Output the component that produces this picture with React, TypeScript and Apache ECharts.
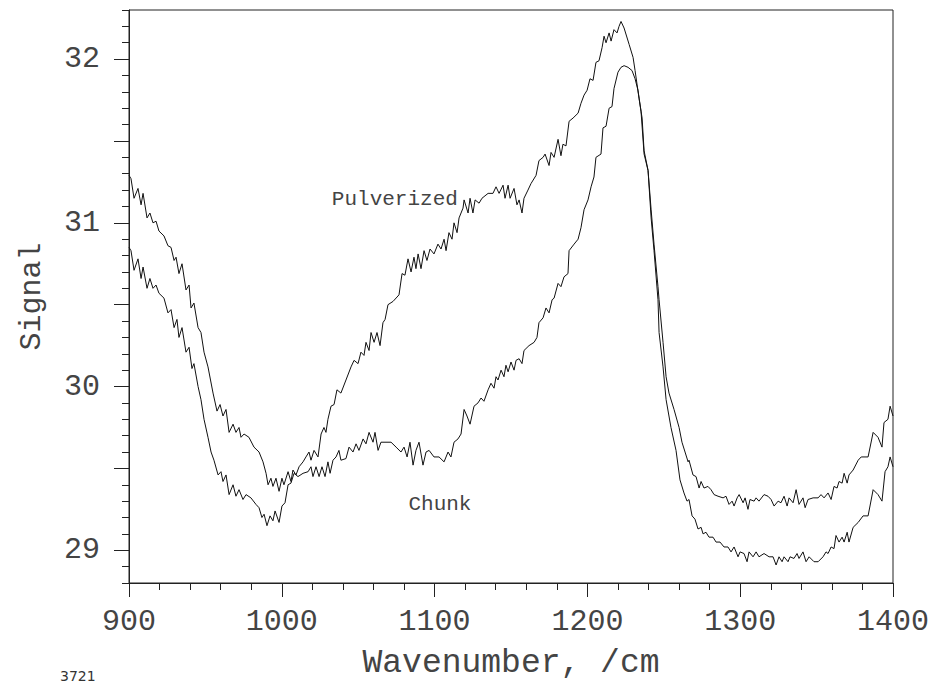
import React, { useEffect, useRef } from "react";
import * as echarts from "echarts";

// Wavenumber (cm^-1), signal pairs
const pulverized: [number, number][] = [
  [900, 31.29], [901.3, 31.27], [903.3, 31.15], [905.9, 31.21], [907.9, 31.11], [909.2, 31.18],
  [911.8, 31.03], [913.7, 31.06], [915.7, 31.0], [917.7, 31.01], [919.6, 30.95], [922.9, 30.92],
  [925.5, 30.86], [927.5, 30.85], [929.5, 30.77], [930.8, 30.79], [932.7, 30.69], [934.7, 30.75],
  [937.3, 30.59], [939.3, 30.62], [940.6, 30.48], [942.5, 30.51], [945.2, 30.36], [947.1, 30.33],
  [949.1, 30.21], [951.7, 30.12], [955.0, 29.96], [957.6, 29.85], [959.6, 29.89], [961.5, 29.82],
  [963.5, 29.86], [965.5, 29.72], [968.1, 29.77], [970.0, 29.72], [972.0, 29.75], [973.3, 29.69],
  [975.3, 29.71], [978.5, 29.69], [981.8, 29.63], [985.1, 29.6], [987.7, 29.54], [989.7, 29.47],
  [991.0, 29.4], [992.9, 29.44], [994.2, 29.39], [996.2, 29.44], [998.2, 29.36], [1000.1, 29.44],
  [1001.4, 29.4], [1004.1, 29.48], [1006.0, 29.42], [1007.3, 29.49], [1009.3, 29.46], [1011.3, 29.51],
  [1013.9, 29.54], [1015.8, 29.57], [1017.8, 29.6], [1019.1, 29.55], [1021.1, 29.61], [1023.7, 29.57],
  [1025.7, 29.71], [1027.6, 29.75], [1028.9, 29.72], [1030.2, 29.8], [1032.2, 29.88], [1034.2, 29.89],
  [1036.1, 29.98], [1038.7, 29.96], [1042.0, 30.04], [1045.3, 30.12], [1047.3, 30.16], [1049.9, 30.14],
  [1051.8, 30.21], [1053.8, 30.19], [1055.1, 30.27], [1057.1, 30.22], [1058.4, 30.33], [1060.4, 30.27],
  [1062.3, 30.33], [1064.3, 30.25], [1066.2, 30.39], [1067.6, 30.41], [1069.5, 30.5], [1072.8, 30.52],
  [1076.7, 30.56], [1078.7, 30.69], [1080.6, 30.68], [1082.6, 30.78], [1084.6, 30.7], [1086.5, 30.79],
  [1087.8, 30.72], [1089.2, 30.81], [1091.1, 30.72], [1093.1, 30.83], [1095.0, 30.77], [1097.0, 30.84],
  [1099.6, 30.81], [1102.2, 30.87], [1104.2, 30.84], [1106.2, 30.9], [1107.5, 30.83], [1109.4, 30.94],
  [1111.4, 30.9], [1112.7, 31.0], [1114.7, 30.94], [1116.0, 31.03], [1118.6, 31.09], [1119.3, 31.14],
  [1121.9, 31.06], [1123.2, 31.15], [1125.1, 31.06], [1126.5, 31.14], [1129.1, 31.12], [1131.0, 31.15],
  [1135.0, 31.18], [1138.2, 31.18], [1140.2, 31.22], [1142.2, 31.18], [1144.8, 31.23], [1146.1, 31.15],
  [1148.1, 31.23], [1149.4, 31.15], [1152.0, 31.21], [1153.9, 31.11], [1155.3, 31.14], [1157.2, 31.06],
  [1158.5, 31.15], [1161.1, 31.2], [1163.1, 31.24], [1166.4, 31.29], [1168.3, 31.38], [1171.0, 31.4],
  [1172.3, 31.42], [1174.9, 31.35], [1176.2, 31.43], [1178.2, 31.4], [1180.8, 31.51], [1182.7, 31.41],
  [1184.0, 31.48], [1186.0, 31.47], [1188.0, 31.62], [1190.6, 31.64], [1193.9, 31.67], [1195.8, 31.73],
  [1197.8, 31.78], [1199.8, 31.81], [1201.7, 31.88], [1203.7, 31.87], [1205.6, 31.98], [1207.6, 31.99],
  [1209.6, 32.07], [1210.9, 32.14], [1212.2, 32.1], [1214.2, 32.16], [1215.5, 32.11], [1217.4, 32.18],
  [1219.4, 32.16], [1220.7, 32.2], [1222.0, 32.23], [1224.0, 32.19], [1227.3, 32.09], [1229.9, 32.01],
  [1231.2, 31.93], [1233.8, 31.76], [1235.8, 31.64], [1237.1, 31.44], [1239.7, 31.32], [1241.7, 31.08],
  [1243.6, 30.87], [1246.2, 30.61], [1246.9, 30.53], [1249.5, 30.27], [1251.5, 30.06], [1253.4, 29.96],
  [1256.7, 29.86], [1260.0, 29.75], [1261.9, 29.66], [1263.9, 29.6], [1265.9, 29.54], [1266.5, 29.55],
  [1269.1, 29.46], [1271.1, 29.45], [1273.1, 29.38], [1274.4, 29.42], [1276.3, 29.38], [1278.9, 29.39],
  [1280.9, 29.37], [1282.9, 29.34], [1285.5, 29.33], [1288.8, 29.32], [1290.7, 29.33], [1292.7, 29.28],
  [1294.7, 29.3], [1296.0, 29.27], [1298.0, 29.32], [1299.3, 29.34], [1301.9, 29.29], [1303.2, 29.32],
  [1305.1, 29.25], [1306.4, 29.31], [1309.1, 29.3], [1310.4, 29.32], [1312.3, 29.3], [1315.6, 29.34],
  [1318.2, 29.33], [1320.2, 29.31], [1322.2, 29.27], [1324.8, 29.3], [1326.7, 29.29], [1328.7, 29.33],
  [1330.7, 29.27], [1332.0, 29.32], [1334.6, 29.29], [1336.6, 29.37], [1338.5, 29.28], [1341.1, 29.32],
  [1342.5, 29.26], [1344.4, 29.31], [1347.7, 29.32], [1351.0, 29.32], [1352.9, 29.34], [1354.9, 29.32],
  [1357.5, 29.35], [1359.5, 29.31], [1361.4, 29.39], [1363.4, 29.38], [1364.7, 29.42], [1366.7, 29.41],
  [1368.0, 29.47], [1370.0, 29.41], [1371.2, 29.46], [1373.9, 29.49], [1377.2, 29.55], [1379.2, 29.57],
  [1383.7, 29.57], [1387.0, 29.72], [1390.2, 29.69], [1392.8, 29.63], [1394.1, 29.78], [1396.7, 29.8],
  [1398.1, 29.88], [1400.0, 29.82],
];

const chunk: [number, number][] = [
  [900, 30.85], [901.3, 30.83], [903.3, 30.71], [905.9, 30.78], [907.9, 30.66], [909.2, 30.73],
  [911.8, 30.6], [913.7, 30.66], [915.7, 30.6], [917.7, 30.62], [919.6, 30.57], [922.9, 30.54],
  [925.5, 30.45], [927.5, 30.47], [929.5, 30.36], [931.4, 30.41], [932.7, 30.3], [934.7, 30.36],
  [937.3, 30.21], [939.3, 30.24], [941.2, 30.11], [942.5, 30.14], [945.2, 30.0], [947.1, 29.92],
  [949.1, 29.8], [951.7, 29.69], [953.7, 29.6], [955.6, 29.55], [958.3, 29.46], [960.2, 29.48],
  [961.5, 29.42], [963.5, 29.46], [965.5, 29.34], [968.1, 29.4], [970.0, 29.33], [972.0, 29.37],
  [974.6, 29.31], [976.6, 29.34], [979.8, 29.32], [983.1, 29.28], [985.1, 29.26], [987.0, 29.2],
  [988.4, 29.22], [990.3, 29.15], [992.3, 29.21], [994.2, 29.18], [995.6, 29.24], [998.2, 29.17],
  [1000.1, 29.27], [1002.1, 29.29], [1004.1, 29.4], [1006.0, 29.41], [1008.0, 29.47], [1010.6, 29.45],
  [1013.9, 29.47], [1017.2, 29.48], [1019.1, 29.51], [1020.4, 29.45], [1022.4, 29.51], [1024.4, 29.45],
  [1026.3, 29.51], [1028.3, 29.45], [1030.2, 29.54], [1031.6, 29.47], [1033.5, 29.55], [1035.5, 29.57],
  [1037.4, 29.61], [1038.7, 29.55], [1042.0, 29.56], [1044.0, 29.63], [1046.6, 29.6], [1048.6, 29.65],
  [1050.5, 29.61], [1053.2, 29.68], [1055.1, 29.65], [1057.1, 29.72], [1059.7, 29.66], [1061.0, 29.72],
  [1063.0, 29.61], [1064.9, 29.66], [1068.2, 29.66], [1071.5, 29.66], [1074.8, 29.63], [1078.0, 29.6],
  [1080.0, 29.63], [1082.0, 29.57], [1083.9, 29.66], [1085.9, 29.52], [1087.8, 29.61], [1089.8, 29.66],
  [1092.4, 29.52], [1094.4, 29.6], [1096.4, 29.61], [1099.6, 29.57], [1102.9, 29.57], [1106.2, 29.54],
  [1108.8, 29.6], [1110.7, 29.57], [1112.7, 29.66], [1115.3, 29.68], [1117.3, 29.71], [1119.3, 29.86],
  [1121.2, 29.82], [1123.2, 29.77], [1125.8, 29.88], [1128.4, 29.9], [1130.4, 29.93], [1132.3, 29.91],
  [1135.0, 29.98], [1136.9, 30.02], [1138.9, 29.99], [1140.2, 30.06], [1141.5, 30.04], [1143.5, 30.1],
  [1145.4, 30.06], [1146.7, 30.13], [1148.1, 30.09], [1150.0, 30.15], [1152.0, 30.1], [1153.3, 30.16],
  [1155.3, 30.17], [1157.2, 30.14], [1158.5, 30.22], [1161.8, 30.25], [1165.1, 30.27], [1167.0, 30.3],
  [1168.3, 30.39], [1171.0, 30.42], [1172.9, 30.48], [1174.9, 30.45], [1176.9, 30.53], [1178.2, 30.54],
  [1180.8, 30.63], [1182.7, 30.61], [1184.7, 30.67], [1187.3, 30.69], [1188.0, 30.83], [1191.3, 30.87],
  [1193.9, 30.9], [1195.8, 30.97], [1197.8, 31.08], [1200.4, 31.14], [1202.4, 31.22], [1204.3, 31.28],
  [1205.6, 31.4], [1208.9, 31.42], [1210.2, 31.58], [1212.2, 31.59], [1214.2, 31.7], [1216.1, 31.71],
  [1217.4, 31.82], [1220.0, 31.92], [1222.0, 31.95], [1224.0, 31.96], [1226.6, 31.95], [1229.2, 31.93],
  [1231.2, 31.88], [1233.1, 31.81], [1235.1, 31.68], [1237.1, 31.42], [1239.7, 31.32], [1241.7, 31.03],
  [1243.6, 30.83], [1246.2, 30.53], [1246.9, 30.33], [1249.5, 30.12], [1251.5, 29.92], [1254.7, 29.75],
  [1258.0, 29.61], [1260.6, 29.43], [1263.2, 29.35], [1265.2, 29.3], [1266.5, 29.31], [1268.5, 29.21],
  [1270.4, 29.19], [1272.4, 29.13], [1274.4, 29.14], [1275.7, 29.1], [1277.6, 29.11], [1279.6, 29.08],
  [1282.2, 29.08], [1284.2, 29.05], [1286.8, 29.05], [1289.4, 29.02], [1292.0, 29.02], [1294.0, 28.99],
  [1296.0, 29.02], [1298.6, 28.96], [1299.9, 28.99], [1302.5, 28.98], [1304.5, 28.93], [1305.8, 28.99],
  [1308.4, 28.96], [1310.4, 28.99], [1312.3, 28.96], [1315.6, 28.98], [1318.9, 28.96], [1321.5, 28.96],
  [1323.5, 28.91], [1325.4, 28.96], [1327.4, 28.93], [1328.7, 28.96], [1331.3, 28.93], [1332.6, 28.96],
  [1335.2, 28.95], [1337.2, 28.98], [1338.5, 28.95], [1341.1, 28.99], [1343.1, 28.93], [1345.1, 28.96],
  [1348.3, 28.93], [1351.0, 28.93], [1354.2, 28.96], [1356.2, 28.99], [1357.5, 28.98], [1359.5, 29.02],
  [1361.4, 29.01], [1362.7, 29.09], [1364.7, 29.05], [1366.7, 29.08], [1368.0, 29.05], [1370.0, 29.11],
  [1371.2, 29.05], [1373.9, 29.14], [1377.2, 29.17], [1380.4, 29.21], [1383.7, 29.21], [1387.0, 29.37],
  [1390.2, 29.34], [1392.8, 29.3], [1394.8, 29.48], [1396.7, 29.51], [1398.1, 29.57], [1400.0, 29.51],
];

const yLabelValues = [29, 30, 31, 32];
const yMajorTicks = [29, 29.5, 30, 30.5, 31, 31.5, 32];
const yMinorTicks = Array.from({ length: 36 }, (_, i) => Math.round((28.8 + i * 0.1) * 10) / 10);

const seriesNames = ["Pulverized", "Chunk"];
const annotationAt: [number, number][] = [
  [1074, 31.145],
  [1103.5, 29.28],
];
const figureNumber = "3721";

const FONT = "'Liberation Mono', 'DejaVu Sans Mono', monospace";
const TXT = "#444";

export default function App() {
  const ref = useRef<HTMLDivElement>(null);
  useEffect(() => {
    if (!ref.current) return;
    const chart = echarts.init(ref.current, undefined, { renderer: "svg" });
    const mkAnn = (i: number) => ({
      symbol: "circle",
      symbolSize: 0,
      data: [
        {
          coord: annotationAt[i],
          label: {
            show: true,
            position: "inside",
            formatter: seriesNames[i],
            color: TXT,
            fontFamily: FONT,
            fontSize: 21,
          },
        },
      ],
    });
    chart.setOption({
      animation: false,
      backgroundColor: "#ffffff",
      grid: {
        left: 129,
        right: 45,
        top: 10,
        bottom: 107,
        show: true,
        borderColor: "#222",
        borderWidth: 1,
        backgroundColor: "transparent",
      },
      xAxis: {
        type: "value",
        min: 900,
        max: 1400,
        interval: 100,
        name: "Wavenumber, /cm",
        nameLocation: "middle",
        nameGap: 64,
        nameTextStyle: { color: TXT, fontFamily: FONT, fontSize: 33 },
        axisLine: { show: true, lineStyle: { color: "#222", width: 1 } },
        axisTick: { show: true, length: 14, lineStyle: { color: "#222" } },
        minorTick: { show: true, splitNumber: 5, length: 7, lineStyle: { color: "#222" } },
        axisLabel: {
          color: TXT,
          fontFamily: FONT,
          fontSize: 30,
          margin: 24,
          formatter: (v: number) => String(v),
        },
        splitLine: { show: false },
      },
      yAxis: [
        {
          type: "value",
          min: 28.8,
          max: 32.3,
          position: "left",
          name: "Signal",
          nameLocation: "middle",
          nameGap: 82,
          nameTextStyle: { color: TXT, fontFamily: FONT, fontSize: 30 },
          axisLine: { show: true, lineStyle: { color: "#222", width: 1 } },
          axisTick: { show: true, length: 15, customValues: yMajorTicks, lineStyle: { color: "#222" } },
          axisLabel: {
            color: TXT,
            fontFamily: FONT,
            fontSize: 30,
            margin: 29,
            customValues: yLabelValues,
            formatter: (v: number) => String(v),
          },
          splitLine: { show: false },
        },
        {
          type: "value",
          min: 28.8,
          max: 32.3,
          position: "left",
          axisLine: { show: false },
          axisTick: { show: true, length: 7, customValues: yMinorTicks, lineStyle: { color: "#222" } },
          axisLabel: { show: false },
          splitLine: { show: false },
        },
      ],
      series: [
        {
          name: seriesNames[0],
          type: "line",
          data: pulverized,
          showSymbol: false,
          symbol: "none",
          lineStyle: { color: "#111", width: 1 },
          markPoint: mkAnn(0),
        },
        {
          name: seriesNames[1],
          type: "line",
          data: chunk,
          showSymbol: false,
          symbol: "none",
          lineStyle: { color: "#111", width: 1 },
          markPoint: mkAnn(1),
        },
      ],
      graphic: [
        {
          type: "text",
          left: 60,
          top: 669,
          style: { text: figureNumber, fill: "#333", font: "14px 'DejaVu Sans', sans-serif" },
        },
      ],
    });
    return () => chart.dispose();
  }, []);
  return (
    <div
      ref={ref}
      style={{ position: "absolute", left: 0, top: 0, width: 938, height: 690, background: "#fff" }}
    />
  );
}
